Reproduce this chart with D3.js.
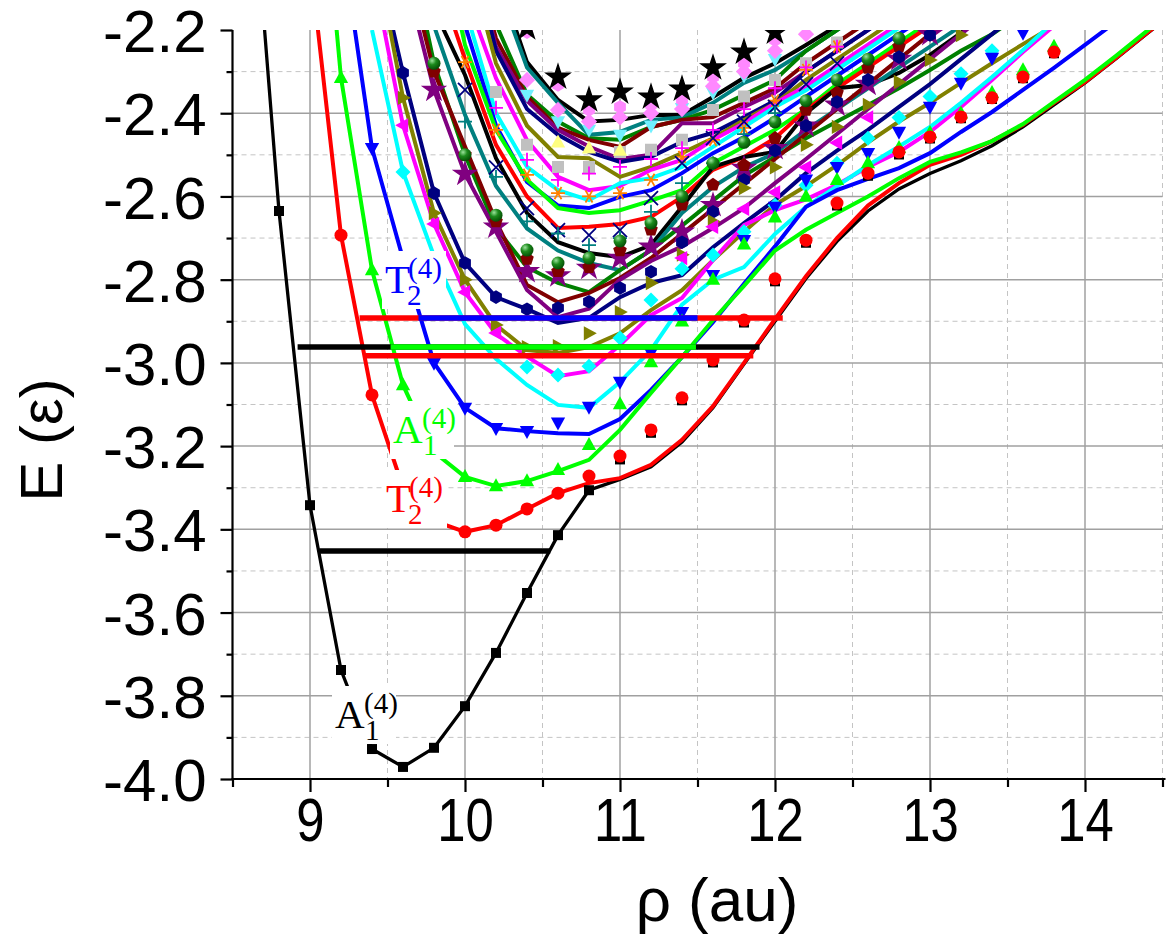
<!DOCTYPE html>
<html><head><meta charset="utf-8">
<script src="https://cdn.jsdelivr.net/npm/d3@7"></script>
<style>body{margin:0;background:#fff}</style>
</head><body>
<svg id="chart" width="1166" height="943"></svg>
<script>
const _ = null;
// rho grid (au)
const rho = [8.6,8.8,9.0,9.2,9.4,9.6,9.8,10.0,10.2,10.4,10.6,10.8,11.0,11.2,11.4,11.6,11.8,12.0,12.2,12.4,12.6,12.8,13.0,13.2,13.4,13.6,13.8,14.0,14.2,14.4,14.6];
const xTicks = [9,10,11,12,13,14];
const yTicks = [-4.0,-3.8,-3.6,-3.4,-3.2,-3.0,-2.8,-2.6,-2.4,-2.2];

// ---- lower, labelled curves ----
const lineA1Black = [-1.70,-2.635,-3.342,-3.738,-3.928,-3.971,-3.925,-3.825,-3.697,-3.553,-3.414,-3.306,-3.280,-3.250,-3.190,-3.108,-3.003,-2.900,-2.797,-2.708,-2.635,-2.582,-2.545,-2.514,-2.478,-2.433,-2.380,-2.327,-2.269,-2.209,-2.150];
const markA1Black = [_,-2.635,-3.342,-3.738,-3.928,-3.971,-3.925,-3.825,-3.697,-3.553,-3.414,-3.306,-3.232,-3.168,-3.090,-2.999,-2.903,-2.804,-2.711,-2.622,-2.550,-2.499,-2.461,-2.412,-2.366,-2.316,-2.256,_,_,_,_];
const lineT2Red = [_,_,-2.03,-2.693,-3.077,-3.300,-3.380,-3.406,-3.390,-3.351,-3.313,-3.289,-3.277,-3.245,-3.185,-3.104,-3.000,-2.895,-2.792,-2.700,-2.622,-2.568,-2.524,-2.500,-2.467,-2.428,-2.375,-2.325,-2.267,-2.207,-2.150];
const markT2Red = [_,_,_,-2.693,-3.077,_,-3.380,-3.406,-3.390,-3.351,-3.313,-3.272,-3.224,-3.161,-3.084,-2.993,-2.897,-2.798,-2.705,-2.616,-2.544,-2.493,-2.457,-2.409,-2.363,-2.313,-2.253,_,_,_,_];
const lineA1Green = [_,_,-1.50,-2.315,-2.777,-3.053,-3.214,-3.274,-3.296,-3.284,-3.260,-3.233,-3.161,-3.072,-2.986,-2.897,-2.815,-2.730,-2.680,-2.640,-2.600,-2.556,-2.517,-2.494,-2.467,-2.426,-2.373,-2.320,-2.262,-2.202,-2.143];
const markA1Green = [_,_,_,-2.315,-2.777,-3.053,_,-3.274,-3.296,-3.284,-3.257,-3.197,-3.099,-2.998,-2.900,-2.800,-2.715,-2.650,-2.600,-2.560,-2.520,-2.483,-2.447,-2.400,-2.351,-2.296,-2.240,_,_,_,_];
const lineT2Blue = [_,_,_,-1.97,-2.484,-2.750,-3.000,-3.108,-3.157,-3.164,-3.169,-3.171,-3.135,-3.065,-2.986,-2.902,-2.810,-2.720,-2.625,-2.585,-2.558,-2.532,-2.496,-2.445,-2.397,-2.344,-2.291,-2.236,-2.180,_,_];
const markT2Blue = [_,_,_,_,-2.484,_,-3.000,-3.108,-3.157,-3.164,-3.144,-3.106,-3.046,-2.976,-2.878,-2.789,-2.705,-2.625,-2.560,-2.530,-2.496,-2.445,-2.385,-2.327,-2.267,-2.207,_,_,_,_,_];
const lineCyan = [_,_,_,_,-2.200,-2.541,-2.743,-2.907,-2.990,-3.053,-3.101,-3.108,-3.046,-2.969,-2.860,-2.800,-2.770,-2.690,-2.625,-2.575,-2.525,-2.480,-2.433,-2.375,-2.313,-2.248,-2.180,_,_,_,_];
const markCyan = [_,_,_,_,_,-2.541,_,_,_,-3.010,-3.029,-3.008,-2.940,-2.849,-2.774,-2.741,-2.685,-2.621,-2.573,-2.520,-2.460,-2.410,-2.360,-2.305,-2.250,_,_,_,_,_,_];
const lineMagenta = [_,_,_,_,-2.050,-2.429,-2.666,-2.830,-2.930,-2.985,-3.032,-3.020,-2.957,-2.885,-2.844,-2.753,-2.669,-2.633,-2.607,-2.572,-2.529,-2.493,-2.445,-2.385,-2.320,-2.253,-2.190,_,_,_,_];
const markMagenta = [_,_,_,_,_,-2.429,-2.666,-2.830,-2.928,_,_,_,_,_,-2.748,-2.673,-2.630,-2.590,-2.530,-2.471,-2.410,_,_,_,_,_,_,_,_,_,_];
const lineOlive = [_,_,_,_,-1.970,-2.363,-2.640,-2.800,-2.909,-2.969,-2.976,-2.962,-2.929,-2.873,-2.825,-2.753,-2.685,-2.620,-2.575,-2.525,-2.470,-2.420,-2.375,-2.327,-2.280,-2.234,-2.190,_,_,_,_];
const markOlive = [_,_,_,_,_,-2.363,-2.640,-2.800,-2.909,-2.962,-2.960,-2.929,-2.878,-2.808,-2.740,-2.660,-2.580,-2.530,-2.476,-2.433,-2.380,-2.325,-2.272,-2.212,_,_,_,_,_,_,_];
const lineNavy = [_,_,_,_,-1.980,-2.303,-2.592,-2.760,-2.842,-2.871,-2.904,-2.892,-2.842,-2.808,-2.789,-2.722,-2.664,-2.609,-2.544,-2.490,-2.440,-2.385,-2.330,-2.270,-2.210,-2.150,_,_,_,_,_];
const markNavy = [_,_,_,_,_,-2.303,-2.592,-2.760,-2.842,-2.871,-2.868,-2.853,-2.820,-2.781,-2.710,-2.637,-2.560,-2.490,-2.430,-2.373,-2.320,-2.265,-2.212,_,_,_,_,_,_,_,_];
const linePurple = [_,_,_,_,_,-2.046,-2.344,-2.546,-2.685,-2.825,-2.890,-2.870,-2.800,-2.755,-2.720,-2.676,-2.628,-2.568,-2.510,-2.450,-2.390,-2.330,-2.270,-2.210,-2.150,_,_,_,_,_,_];
const markPurple = [_,_,_,_,_,_,-2.344,-2.546,-2.673,-2.780,-2.790,-2.772,-2.748,-2.721,-2.685,-2.621,-2.532,-2.484,-2.430,-2.380,-2.330,-2.270,-2.210,_,_,_,_,_,_,_,_];
const lineMaroon = [_,_,_,_,_,-2.000,-2.300,-2.480,-2.660,-2.813,-2.854,-2.832,-2.796,-2.748,-2.690,-2.630,-2.570,-2.510,-2.450,-2.390,-2.330,-2.270,-2.210,-2.150,_,_,_,_,_,_,_];
const markMaroon = [_,_,_,_,_,_,-2.300,-2.500,-2.660,-2.750,-2.780,-2.770,-2.730,-2.680,-2.620,-2.572,-2.525,-2.460,-2.392,-2.351,-2.291,-2.240,_,_,_,_,_,_,_,_,_];
const lineDkGreen = [_,_,_,_,_,-1.930,-2.280,-2.500,-2.676,-2.770,-2.808,-2.830,-2.777,-2.729,-2.670,-2.610,-2.550,-2.505,-2.460,-2.420,-2.380,-2.340,-2.296,-2.250,-2.210,-2.160,_,_,_,_,_];
const markDkGreen = [_,_,_,_,_,_,-2.280,-2.500,-2.645,-2.729,-2.760,-2.748,-2.707,-2.664,-2.600,-2.520,-2.470,-2.421,-2.370,-2.320,-2.270,-2.220,_,_,_,_,_,_,_,_,_];
const lineTeal1 = [_,_,_,_,_,_,-2.190,-2.404,-2.575,-2.677,-2.730,-2.760,-2.777,-2.729,-2.640,-2.577,-2.530,-2.496,-2.440,-2.390,-2.340,-2.290,-2.240,-2.190,_,_,_,_,_,_,_];
const markTeal1 = [_,_,_,_,_,_,_,-2.420,-2.553,-2.660,-2.689,-2.717,-2.700,-2.637,-2.568,-2.520,-2.450,-2.400,_,_,_,_,_,_,_,_,_,_,_,_,_];
// ---- upper bundle ----
const lineBlack2 = [_,_,_,_,_,_,-2.150,-2.308,-2.508,-2.640,-2.710,-2.736,-2.746,-2.717,-2.625,-2.529,-2.505,-2.493,-2.400,-2.340,-2.332,-2.303,-2.260,-2.207,-2.150,_,_,_,_,_,_];
const lineRed2 = [_,_,_,_,_,_,-2.050,-2.270,-2.476,-2.600,-2.676,-2.673,-2.666,-2.649,-2.601,-2.536,-2.505,-2.460,-2.392,-2.340,-2.290,-2.240,-2.190,_,_,_,_,_,_,_,_];
const lineGreen2 = [_,_,_,_,_,_,-1.900,-2.236,-2.440,-2.560,-2.628,-2.640,-2.633,-2.610,-2.585,-2.520,-2.480,-2.440,-2.390,-2.330,-2.280,-2.230,-2.180,_,_,_,_,_,_,_,_];
const lineBlue2 = [_,_,_,_,_,_,-1.850,-2.188,-2.430,-2.565,-2.622,-2.628,-2.601,-2.585,-2.544,-2.496,-2.457,-2.411,-2.360,-2.310,-2.260,-2.210,-2.160,_,_,_,_,_,_,_,_];
const lineCyan2 = [_,_,_,_,_,_,-1.850,-2.147,-2.400,-2.529,-2.585,-2.609,-2.568,-2.556,-2.529,-2.481,-2.433,-2.385,-2.345,-2.295,-2.245,-2.195,-2.145,_,_,_,_,_,_,_,_];
const lineMagenta2 = [_,_,_,_,_,_,-1.800,-2.110,-2.316,-2.465,-2.553,-2.585,-2.575,-2.536,-2.512,-2.464,-2.424,-2.376,-2.335,-2.285,-2.235,-2.185,_,_,_,_,_,_,_,_,_];
const lineOlive2 = [_,_,_,_,_,_,_,-2.000,-2.280,-2.430,-2.505,-2.508,-2.553,-2.529,-2.496,-2.460,-2.416,-2.376,-2.320,-2.270,-2.220,-2.170,_,_,_,_,_,_,_,_,_];
const lineNavy2 = [_,_,_,_,_,_,_,-1.950,-2.250,-2.390,-2.452,-2.493,-2.517,-2.505,-2.469,-2.447,-2.409,-2.370,-2.300,-2.250,-2.200,-2.150,_,_,_,_,_,_,_,_,_];
const linePurple2 = [_,_,_,_,_,_,_,-1.950,-2.240,-2.370,-2.440,-2.480,-2.510,-2.500,-2.424,-2.424,-2.385,-2.350,-2.300,-2.250,-2.200,-2.150,_,_,_,_,_,_,_,_,_];
const lineMaroon2 = [_,_,_,_,_,_,_,-1.950,-2.220,-2.360,-2.435,-2.464,-2.481,-2.433,-2.416,-2.409,-2.375,-2.340,-2.280,-2.230,-2.180,_,_,_,_,_,_,_,_,_,_];
const lineDkGreen2 = [_,_,_,_,_,_,_,-1.950,-2.186,-2.355,-2.420,-2.460,-2.464,-2.433,-2.416,-2.392,-2.356,-2.320,-2.250,-2.200,-2.150,_,_,_,_,_,_,_,_,_,_];
const lineTeal3 = [_,_,_,_,_,_,_,_,-2.085,-2.290,-2.375,-2.452,-2.445,-2.416,-2.410,-2.375,-2.327,-2.296,-2.250,-2.200,-2.150,_,_,_,_,_,_,_,_,_,_];
const lineBlack3 = [_,_,_,_,_,_,_,_,-2.060,-2.277,-2.368,-2.420,-2.416,-2.404,-2.404,-2.361,-2.315,-2.280,-2.236,-2.190,_,_,_,_,_,_,_,_,_,_,_];
// ---- scatter-only points of the upper manifold ----
const markStarBlack = [_,_,_,_,_,_,_,_,_,-2.195,-2.313,-2.368,-2.349,-2.361,-2.342,-2.291,-2.253,-2.205,_,_,_,_,_,_,_,_,_,_,_,_,_];
const markPinkHex = [_,_,_,_,_,_,_,_,_,-2.205,-2.332,-2.392,-2.385,-2.380,-2.368,-2.313,-2.280,-2.224,_,_,_,_,_,_,_,_,_,_,_,_,_];
const markPinkDiamond = [_,_,_,_,_,_,_,_,_,-2.320,-2.392,-2.420,-2.410,-2.400,-2.390,-2.335,-2.300,-2.250,-2.210,_,_,_,_,_,_,_,_,_,_,_,_];
const markLtCyan = [_,_,_,_,_,_,_,_,_,-2.356,-2.420,-2.440,-2.452,-2.430,-2.388,-2.350,-2.310,-2.270,_,_,_,_,_,_,_,_,_,_,_,_,_];
const markYellow = [_,_,_,_,_,_,_,_,_,_,-2.470,-2.484,-2.490,_,_,_,_,_,_,_,_,_,_,_,_,_,_,_,_,_,_];
const markGrey = [_,_,_,_,_,_,_,_,-2.349,-2.476,-2.529,-2.529,-2.493,-2.488,-2.464,-2.392,-2.360,-2.320,-2.280,-2.230,_,_,_,_,_,_,_,_,_,_,_];
const markOrange = [_,_,_,_,_,_,_,-2.277,-2.440,-2.548,-2.592,-2.600,-2.592,-2.560,-2.505,-2.464,-2.435,-2.370,-2.296,-2.240,_,_,_,_,_,_,_,_,_,_,_];
const markMagPlus = [_,_,_,_,_,_,_,_,-2.387,-2.512,-2.560,-2.545,-2.529,-2.510,-2.484,-2.440,-2.390,-2.340,-2.290,-2.240,_,_,_,_,_,_,_,_,_,_,_];
const markNavyX = [_,_,_,_,_,_,_,-2.344,-2.530,-2.628,-2.681,-2.693,-2.681,-2.604,-2.520,-2.460,-2.420,-2.385,-2.330,-2.280,_,_,_,_,_,_,_,_,_,_,_];

// horizontal levels (energy, from rho, to rho)
const levelE    = [-3.452, -2.962, -2.962, -2.983, -2.892, -2.892];
const levelFrom = [ 9.06,   8.92,   9.52,   9.35,   9.32,   9.70];
const levelTo   = [10.55,  11.90,  11.49,  11.86,  12.05,  11.50];

// label texts
const labelMain = ["T","A","T","A"];
const labelSub  = ["2","1","2","1"];
const labelSup  = ["(4)","(4)","(4)","(4)"];

// ================= drawing =================
const svg = d3.select("#chart");
const x = d3.scaleLinear().domain([8.5,14.5]).range([232.5,1162.5]);
const y = d3.scaleLinear().domain([-4.0,-2.2]).range([779,30]);
const L = 232.5, R = 1162.5, T = 30, B = 779;

const defs = svg.append("defs");
defs.append("clipPath").attr("id","clip").append("rect")
  .attr("x",L).attr("y",T).attr("width",R-L+4).attr("height",B-T);
const grad = defs.append("radialGradient").attr("id","ball").attr("cx","35%").attr("cy","30%").attr("r","70%");
grad.append("stop").attr("offset","0%").attr("stop-color","#9be29b");
grad.append("stop").attr("offset","45%").attr("stop-color","#1c8a1c");
grad.append("stop").attr("offset","100%").attr("stop-color","#055005");

// grid
const grid = svg.append("g");
const minorX = d3.range(9.5,14.6,1);
const minorY = d3.range(-3.9,-2.25,0.2);
grid.selectAll(".mx").data(minorX).join("line")
  .attr("x1",d=>x(d)).attr("x2",d=>x(d)).attr("y1",T).attr("y2",B)
  .attr("stroke","#c4c4c4").attr("stroke-width",1).attr("stroke-dasharray","5,4");
grid.selectAll(".my").data(minorY).join("line")
  .attr("y1",d=>y(d)).attr("y2",d=>y(d)).attr("x1",L).attr("x2",R)
  .attr("stroke","#c4c4c4").attr("stroke-width",1).attr("stroke-dasharray","5,4");
grid.selectAll(".gx").data(xTicks).join("line")
  .attr("x1",d=>x(d)).attr("x2",d=>x(d)).attr("y1",T).attr("y2",B)
  .attr("stroke","#a0a0a0").attr("stroke-width",1.5);
grid.selectAll(".gy").data(yTicks.filter(v=>v>-3.99 && v<-2.21)).join("line")
  .attr("y1",d=>y(d)).attr("y2",d=>y(d)).attr("x1",L).attr("x2",R)
  .attr("stroke","#a0a0a0").attr("stroke-width",1.5);

const plot = svg.append("g").attr("clip-path","url(#clip)");

const lineGen = d3.line().defined(d=>d[1]!=null).x(d=>x(d[0])).y(d=>y(d[1]));
const pts = arr => rho.map((r,i)=>[r,arr[i]]);

const lineSeries = [
  [lineBlack3,"#000000"],[lineTeal3,"#008080"],[lineDkGreen2,"#008000"],[lineMaroon2,"#800000"],
  [linePurple2,"#800080"],[lineNavy2,"#000080"],[lineOlive2,"#808000"],[lineMagenta2,"#ff00ff"],
  [lineCyan2,"#00ffff"],[lineBlue2,"#0000ff"],[lineGreen2,"#00ff00"],[lineRed2,"#ff0000"],
  [lineBlack2,"#000000"],[lineTeal1,"#008080"],[lineDkGreen,"#008000"],[lineMaroon,"#800000"],
  [linePurple,"#800080"],[lineNavy,"#000080"],[lineOlive,"#808000"],[lineMagenta,"#ff00ff"],
  [lineCyan,"#00ffff"],[lineT2Blue,"#0000ff"],[lineA1Black,"#000000"],[lineT2Red,"#ff0000"],[lineA1Green,"#00ff00"]
];
lineSeries.forEach(([arr,col])=>{
  plot.append("path").attr("d",lineGen(pts(arr))).attr("fill","none")
    .attr("stroke",col).attr("stroke-width", arr===lineA1Black ? 3.3 : 4)
    .attr("stroke-linejoin","miter");
});

// marker shapes
function poly(n,r,rot){let p=[];for(let k=0;k<n;k++){const a=rot+2*Math.PI*k/n;p.push([r*Math.cos(a),r*Math.sin(a)]);}return "M"+p.map(q=>q[0].toFixed(2)+","+q[1].toFixed(2)).join("L")+"Z";}
function shape(t,s){
  const h=s/2;
  switch(t){
    case "square": return `M${-h},${-h}h${s}v${s}h${-s}Z`;
    case "circle": return d3.symbol(d3.symbolCircle, Math.PI*h*h)();
    case "up": return `M0,${-h*1.2}L${h*1.1},${h*0.8}L${-h*1.1},${h*0.8}Z`;
    case "down": return `M0,${h*1.2}L${h*1.1},${-h*0.8}L${-h*1.1},${-h*0.8}Z`;
    case "left": return `M${-h*1.2},0L${h*0.8},${-h*1.1}L${h*0.8},${h*1.1}Z`;
    case "right": return `M${h*1.2},0L${-h*0.8},${-h*1.1}L${-h*0.8},${h*1.1}Z`;
    case "diamond": return `M0,${-h*1.25}L${h*1.25},0L0,${h*1.25}L${-h*1.25},0Z`;
    case "hex": return poly(6,h*1.05,Math.PI/6);
    case "pent": return poly(5,h*1.1,-Math.PI/2);
    case "star": return d3.symbol(d3.symbolStar, s*s*0.75)();
    case "plus": return `M${-h},0H${h}M0,${-h}V${h}`;
    case "x": return `M${-h},${-h}L${h},${h}M${-h},${h}L${h},${-h}`;
    case "ast": return `M${-h},0H${h}M${-h*0.5},${-h*0.87}L${h*0.5},${h*0.87}M${-h*0.5},${h*0.87}L${h*0.5},${-h*0.87}`;
  }
}
const markSeries = [
  [markGrey,"#c0c0c0","square",12],
  [markLtCyan,"#70f0ff","down",13],
  [markYellow,"#ffff80","up",13],
  [markPinkDiamond,"#ff88ff","diamond",13],
  [markPinkHex,"#ff88ff","hex",13],
  [markStarBlack,"#000000","star",18],
  [markOrange,"#ff8000","ast",14],
  [markMagPlus,"#ff00ff","plus",14],
  [markNavyX,"#000080","x",14],
  [markTeal1,"#008080","plus",14],
  [markPurple,"#800080","star",17],
  [markMaroon,"#800000","pent",13],
  [markDkGreen,"url(#ball)","circle",13],
  [markNavy,"#000080","hex",13],
  [markOlive,"#808000","right",13],
  [markMagenta,"#ff00ff","left",13],
  [markCyan,"#00ffff","diamond",12],
  [markT2Blue,"#0000ff","down",13],
  [markA1Green,"#00ff00","up",13],
  [markA1Black,"#000000","square",10],
  [markT2Red,"#ff0000","circle",13]
];
markSeries.forEach(([arr,col,t,s])=>{
  const stroke = (t==="plus"||t==="x"||t==="ast");
  plot.append("g").selectAll("path").data(pts(arr).filter(d=>d[1]!=null)).join("path")
    .attr("transform",d=>`translate(${x(d[0])},${y(d[1])})`)
    .attr("d",shape(t,s))
    .attr("fill",stroke?"none":col)
    .attr("stroke",stroke?col:"none").attr("stroke-width",stroke?1.8:0);
});

// levels
const levelColor = ["#000000","#000000","#00ff00","#ff0000","#ff0000","#0000ff"];
levelE.forEach((e,i)=>{
  svg.append("line").attr("x1",x(levelFrom[i])).attr("x2",x(levelTo[i]))
    .attr("y1",y(e)).attr("y2",y(e)).attr("stroke",levelColor[i]).attr("stroke-width",5.5);
});

// axes
const ax = svg.append("g").attr("transform",`translate(0,${B})`)
  .call(d3.axisBottom(x).tickValues(xTicks).tickSize(13).tickSizeOuter(0).tickFormat(d3.format("d")));
ax.select(".domain").attr("stroke","#000").attr("stroke-width",2.2).attr("d",`M${L-1},0H${R+3}`);
ax.selectAll(".tick line").attr("stroke","#000").attr("stroke-width",2.2);
ax.selectAll(".tick text").attr("font-family","'Liberation Sans',Arial,sans-serif").attr("font-size",62)
  .attr("fill","#000").attr("y",18).attr("dy","0.71em").attr("transform","scale(0.82,1)");
const axm = svg.append("g").attr("transform",`translate(0,${B})`)
  .call(d3.axisBottom(x).tickValues(d3.range(8.5,14.6,1)).tickSize(8).tickFormat(""));
axm.select(".domain").remove();
axm.selectAll(".tick line").attr("stroke","#000").attr("stroke-width",2.2);

const ay = svg.append("g").attr("transform",`translate(${L},0)`)
  .call(d3.axisLeft(y).tickValues(yTicks).tickSize(12).tickSizeOuter(0).tickFormat(d3.format(".1f")));
ay.select(".domain").attr("stroke","#000").attr("stroke-width",2.2).attr("d",`M0,${T}V${B+1}`);
ay.selectAll(".tick line").attr("stroke","#000").attr("stroke-width",2.2);
ay.selectAll(".tick text").attr("font-family","'Liberation Sans',Arial,sans-serif").attr("font-size",60)
  .attr("fill","#000").attr("x",-26).attr("dy","0.36em").text(d=>d3.format(".1f")(d).replace("−","-"));
const aym = svg.append("g").attr("transform",`translate(${L},0)`)
  .call(d3.axisLeft(y).tickValues(d3.range(-3.9,-2.25,0.2)).tickSize(6).tickFormat(""));
aym.select(".domain").remove();
aym.selectAll(".tick line").attr("stroke","#000").attr("stroke-width",2.2);

// axis titles
svg.append("text").attr("x",717).attr("y",921).attr("text-anchor","middle")
  .attr("font-family","'Liberation Sans',Arial,sans-serif").attr("font-size",62).text("ρ (au)");
svg.append("text").attr("transform","translate(62,440) rotate(-90)").attr("text-anchor","middle")
  .attr("font-family","'Liberation Sans',Arial,sans-serif").attr("font-size",60).text("E (ε)");

// curve labels
const labelX = [385, 393, 386, 335];
const labelY = [293, 443, 512, 728];
const labelColor = ["#0000ff","#00ff00","#ff0000","#000000"];
const serif = "'Liberation Serif','Times New Roman',serif";
labelMain.forEach((m,i)=>{
  const g = svg.append("g");
  g.append("rect").attr("x",labelX[i]-3).attr("y",labelY[i]-42).attr("width",64).attr("height",58).attr("fill","#fff");
  g.append("text").attr("x",labelX[i]).attr("y",labelY[i]).attr("font-family",serif).attr("font-size",41)
    .attr("fill",labelColor[i]).text(m);
  g.append("text").attr("x",labelX[i]+(m==="A"?30:22)).attr("y",labelY[i]+12).attr("font-family",serif).attr("font-size",29)
    .attr("fill",labelColor[i]).text(labelSub[i]);
  g.append("text").attr("x",labelX[i]+(m==="A"?29:23)).attr("y",labelY[i]-15).attr("font-family",serif).attr("font-size",29)
    .attr("fill",labelColor[i]).text(labelSup[i]);
});
</script>
</body></html>
